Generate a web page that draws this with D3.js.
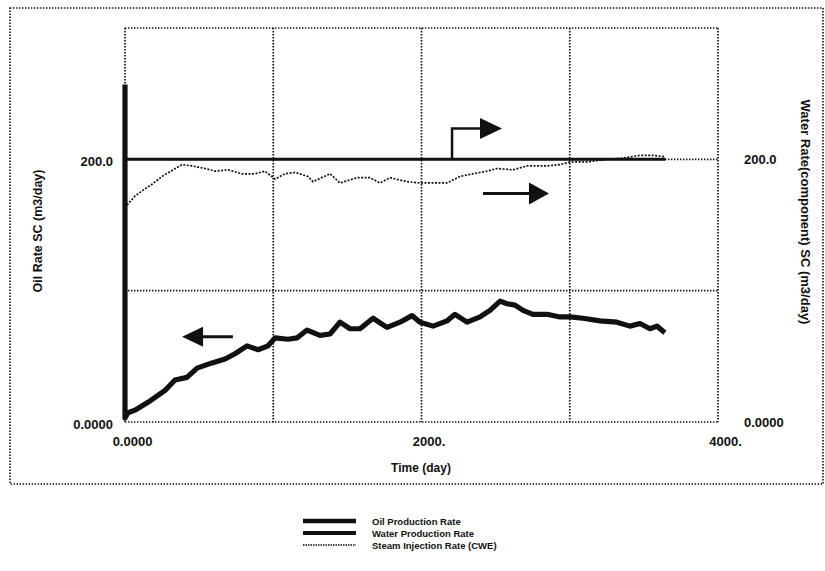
<!DOCTYPE html>
<html><head><meta charset="utf-8">
<script src="https://cdn.jsdelivr.net/npm/d3@7"></script>
<style>
html,body{margin:0;padding:0;background:#fff;}
svg{display:block;font-family:"Liberation Sans",Arial,sans-serif;}
</style></head>
<body><svg id="c" width="825" height="571"></svg>
<script>
// ---- data ----
const xTickValues = [0, 1000, 2000, 3000, 4000];
const xTickLabels = ["0.0000", "", "2000.", "", "4000."];
const yGridValues = [100, 200, 300];
const yTickValues = [0, 200];
const yLeftLabels = ["0.0000", "200.0"];
const yRightLabels = ["0.0000", "200.0"];

const oilT = [0,0,20,67,155,270,337,418,486,587,675,742,823,897,965,1012,1100,1160,1228,1315,1383,1450,1518,1585,1673,1767,1855,1936,1990,2078,2172,2226,2307,2395,2462,2530,2577,2631,2685,2752,2847,2934,3002,3089,3204,3318,3406,3474,3541,3588,3642];
const oilV = [257,3,7,9,15,24,32,34,41,45,48,52,58,55,58,64,63,64,70,66,67,76,71,71,79,72,76,81,76,73,77,82,76,80,85,92,90,89,85,82,82,80,80,79,77,76,73,75,71,73,68];

const waterT = [0, 3645];
const waterV = [200, 200];

const steamT = [0,20,67,115,182,250,324,384,452,540,607,695,789,877,944,1012,1079,1147,1234,1268,1383,1450,1565,1653,1720,1788,1902,1990,2078,2172,2260,2348,2442,2509,2617,2712,2847,2934,3002,3117,3251,3359,3474,3561,3642];
const steamV = [163,166,172,176,181,187,192,196,195,193,191,192,189,189,191,185,189,190,187,183,189,182,186,186,182,186,183,182,182,182,187,189,191,193,192,195,195,196,198,198,200,201,203,203,202];

const legendNames = ["Oil Production Rate", "Water Production Rate", "Steam Injection Rate (CWE)"];
const xTitle = "Time (day)";
const yLeftTitle = "Oil Rate SC (m3/day)";
const yRightTitle = "Water Rate(component) SC (m3/day)";

// annotation arrows in data units
const arrowLeft = [728, 65, 385, 65];
const arrowRight = [2415, 174, 2860, 174];
const arrowElbow = [2206, 200, 2206, 223.5, 2543];

// ---- layout ----
const svg = d3.select("#c");
const L = 125, R = 718, T = 28, B = 422;
const x = d3.scaleLinear().domain([0, 4000]).range([L, R]);
const y = d3.scaleLinear().domain([0, 300]).range([B, T]);
const yR = d3.scaleLinear().domain([0, 300]).range([B, T]);
const dot = "1.4 1.6";
const ink = "#111";

// outer frame
svg.append("rect").attr("x", 10).attr("y", 8).attr("width", 813).attr("height", 476)
  .attr("fill", "none").attr("stroke", ink).attr("stroke-width", 1.6).attr("stroke-dasharray", dot);

// grid
const g = svg.append("g");
g.selectAll("line.vx").data(xTickValues).join("line")
  .attr("x1", d => x(d)).attr("x2", d => x(d)).attr("y1", T).attr("y2", B)
  .attr("stroke", ink).attr("stroke-width", 1.7).attr("stroke-dasharray", dot);
g.selectAll("line.hy").data([0].concat(yGridValues)).join("line")
  .attr("x1", L).attr("x2", R).attr("y1", d => y(d)).attr("y2", d => y(d))
  .attr("stroke", ink).attr("stroke-width", 1.7).attr("stroke-dasharray", dot);

// axes labels via d3 axes
const fs = 13;
const axB = d3.axisBottom(x).tickValues(xTickValues).tickSize(0)
  .tickFormat((d, i) => xTickLabels[i]);
const gx = svg.append("g").attr("transform", `translate(7,${B + 12})`).call(axB);
gx.select(".domain").remove();
gx.selectAll("text").attr("font-size", fs).attr("font-weight", "bold").attr("fill", ink)
  .attr("font-family", "Liberation Sans, Arial, sans-serif");

const axL = d3.axisLeft(y).tickValues(yTickValues).tickSize(0)
  .tickFormat((d, i) => yLeftLabels[i]);
const gl = svg.append("g").attr("transform", `translate(${L - 9},2)`).call(axL);
gl.select(".domain").remove();
gl.selectAll("text").attr("font-size", fs).attr("font-weight", "bold").attr("fill", ink)
  .attr("font-family", "Liberation Sans, Arial, sans-serif");

const axR = d3.axisRight(yR).tickValues(yTickValues).tickSize(0)
  .tickFormat((d, i) => yRightLabels[i]);
const gr = svg.append("g").attr("transform", `translate(${R + 23},0)`).call(axR);
gr.select(".domain").remove();
gr.selectAll("text").attr("font-size", fs).attr("font-weight", "bold").attr("fill", ink)
  .attr("font-family", "Liberation Sans, Arial, sans-serif");

// titles
svg.append("text").attr("x", 421).attr("y", 472).attr("text-anchor", "middle")
  .attr("font-size", 12).attr("font-weight", "bold").attr("fill", ink).text(xTitle);
svg.append("text").attr("transform", "translate(42,231) rotate(-90)").attr("text-anchor", "middle")
  .attr("font-size", 12.5).attr("font-weight", "bold").attr("fill", ink).text(yLeftTitle);
svg.append("text").attr("transform", "translate(801,212) rotate(90)").attr("text-anchor", "middle")
  .attr("font-size", 13).attr("font-weight", "bold").attr("fill", ink).text(yRightTitle);

// series
const line = d3.line().x(d => x(d[0])).y(d => y(d[1]));
const lineR = d3.line().x(d => x(d[0])).y(d => yR(d[1]));
const oil = oilT.map((t, i) => [t, oilV[i]]);
const water = waterT.map((t, i) => [t, waterV[i]]);
const steam = steamT.map((t, i) => [t, steamV[i]]);

svg.append("path").datum(steam).attr("d", lineR).attr("fill", "none")
  .attr("stroke", ink).attr("stroke-width", 1.7).attr("stroke-dasharray", "2 1.5");
svg.append("path").datum(water).attr("d", lineR).attr("fill", "none")
  .attr("stroke", ink).attr("stroke-width", 3);
svg.append("path").datum(oil).attr("d", line).attr("fill", "none")
  .attr("stroke", ink).attr("stroke-width", 5.2).attr("stroke-linejoin", "round");

// arrows
function head(tipX, tipY, dir, len, half) {
  return `M${tipX},${tipY} L${tipX - dir * len},${tipY - half} L${tipX - dir * len},${tipY + half} Z`;
}
{
  const [t0, v0, t1, v1] = arrowLeft;
  svg.append("line").attr("x1", x(t0)).attr("y1", y(v0)).attr("x2", x(t1) + 18).attr("y2", y(v1))
    .attr("stroke", ink).attr("stroke-width", 3);
  svg.append("path").attr("d", head(x(t1), y(v1), -1, 21, 10)).attr("fill", ink);
}
{
  const [t0, v0, t1, v1] = arrowRight;
  svg.append("line").attr("x1", x(t0)).attr("y1", yR(v0)).attr("x2", x(t1) - 18).attr("y2", yR(v1))
    .attr("stroke", ink).attr("stroke-width", 3);
  svg.append("path").attr("d", head(x(t1), yR(v1), 1, 20, 11)).attr("fill", ink);
}
{
  const [t0, v0, t1, v1, t2] = arrowElbow;
  svg.append("path").attr("d", `M${x(t0)},${yR(v0)} L${x(t1)},${yR(v1)} L${x(t2) - 18},${yR(v1)}`)
    .attr("fill", "none").attr("stroke", ink).attr("stroke-width", 2.5);
  svg.append("path").attr("d", head(x(t2), yR(v1), 1, 22, 10.5)).attr("fill", ink);
}

// legend
const legY = [521, 533, 545];
const legStyles = [
  {w: 4.5, dash: null},
  {w: 4, dash: null},
  {w: 1.4, dash: "1.5 1"}
];
const lg = svg.append("g");
legendNames.forEach((n, i) => {
  const s = legStyles[i];
  const l = lg.append("line").attr("x1", 303).attr("x2", 356).attr("y1", legY[i]).attr("y2", legY[i])
    .attr("stroke", ink).attr("stroke-width", s.w);
  if (s.dash) l.attr("stroke-dasharray", s.dash);
  lg.append("text").attr("x", 372).attr("y", legY[i] + 3.5).attr("font-size", 9.5)
    .attr("font-weight", "bold").attr("fill", ink).text(n);
});
</script></body></html>
